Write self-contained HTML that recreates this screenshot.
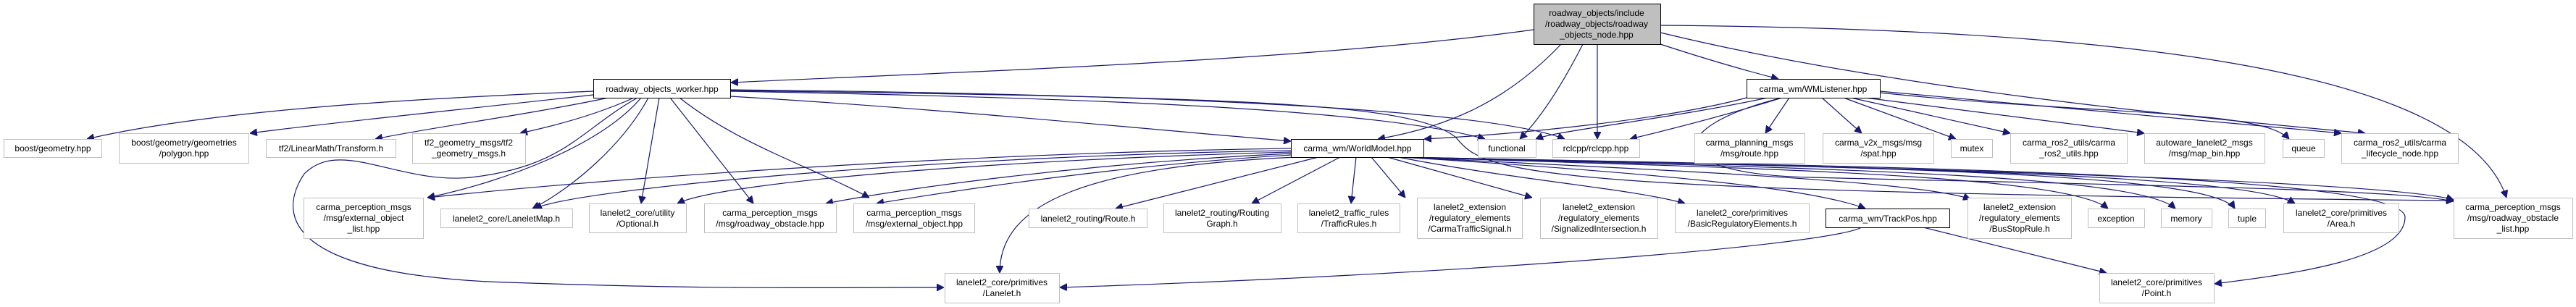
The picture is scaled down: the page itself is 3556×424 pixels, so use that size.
<!DOCTYPE html>
<html><head><meta charset="utf-8"><style>
html,body{margin:0;padding:0;background:#fff;}
svg{display:block;}
text{font-family:"Liberation Sans",Arial,sans-serif;font-size:12px;fill:#000;}
</style></head><body>
<svg width="3556" height="424" viewBox="0 0 3556 424" xmlns="http://www.w3.org/2000/svg">
<defs>
<marker id="a" viewBox="0 0 10 10" refX="10" refY="5" markerWidth="10" markerHeight="10" markerUnits="userSpaceOnUse" orient="auto">
<path d="M0,0 L10,5 L0,10 z" fill="#191970" stroke="#191970"/>
</marker>
</defs>
<g fill="none" stroke="#191970" stroke-width="1.2" marker-end="url(#a)">
<!-- main node -->
<path d="M2117,41 C1800,85 1300,100 1009,114"/>
<path d="M2155,61 C2080,140 2000,175 1902,192"/>
<path d="M2185,61 C2160,110 2130,160 2098,192"/>
<path d="M2205,61 L2205,192"/>
<path d="M2292,61 C2350,80 2400,95 2455,109"/>
<path d="M2292,45 C2600,120 3000,160 3265,184"/>
<path d="M2292,35 C2900,40 3400,90 3460,273"/>
<!-- worker -->
<path d="M819,126 C600,135 300,150 120,192"/>
<path d="M819,131 C650,150 450,170 345,184"/>
<path d="M840,135 C720,160 600,175 518,192"/>
<path d="M875,135 C820,160 760,175 718,184"/>
<path d="M880,135 C800,180 780,230 650,245 C550,255 470,190 420,240 C380,300 400,380 700,390 C1000,400 1100,397 1303,397"/>
<path d="M885,135 C830,200 700,250 590,273"/>
<path d="M895,135 C860,200 790,260 735,288"/>
<path d="M910,135 L885,281"/>
<path d="M925,135 L1040,281"/>
<path d="M938,135 C1020,200 1120,230 1200,273"/>
<path d="M1008,133 C1300,150 1600,180 1782,195"/>
<path d="M1008,126 C1500,135 1900,150 2050,192"/>
<path d="M1008,124 C1600,130 2050,150 2160,192"/>
<path d="M1008,125 C1700,135 1950,140 2010,190 C2050,240 2100,265 3387,277"/>
<!-- WorldModel -->
<path d="M1782,205 C1400,210 900,240 590,273"/>
<path d="M1782,208 C1300,215 800,260 738,288"/>
<path d="M1782,210 C1400,220 1000,250 935,281"/>
<path d="M1782,212 C1500,225 1250,260 1140,281"/>
<path d="M1782,214 C1600,225 1400,250 1210,281"/>
<path d="M1790,217 C1500,230 1380,280 1380,377"/>
<path d="M1820,217 L1540,288"/>
<path d="M1850,217 L1728,281"/>
<path d="M1872,217 L1865,281"/>
<path d="M1893,217 L1940,273"/>
<path d="M1915,217 L2115,273"/>
<path d="M1930,217 C2100,250 2250,260 2326,281"/>
<path d="M1935,217 C2300,240 2500,260 2575,288"/>
<path d="M1935,217 C2300,235 2650,250 2720,275"/>
<path d="M1935,217 C2400,232 2850,240 2910,288"/>
<path d="M1935,217 C2500,232 2950,240 3003,288"/>
<path d="M1935,217 C2500,230 3050,235 3085,288"/>
<path d="M1935,217 C2600,232 3100,240 3168,281"/>
<path d="M1935,217 C2600,230 3300,250 3387,276"/>
<path d="M1935,217 C2600,230 3320,240 3320,300 C3320,360 3150,380 3057,392"/>
<!-- WMListener -->
<path d="M2411,135 C2300,165 2100,185 1966,192"/>
<path d="M2440,135 C2300,165 2150,180 2120,192"/>
<path d="M2460,135 C2380,160 2300,180 2250,192"/>
<path d="M2470,135 L2437,184"/>
<path d="M2515,135 L2570,184"/>
<path d="M2545,135 L2700,192"/>
<path d="M2555,135 L2775,184"/>
<path d="M2575,135 L2960,184"/>
<path d="M2595,128 C2900,160 3120,150 3160,192"/>
<path d="M2595,126 C2900,155 3100,170 3232,184"/>
<path d="M2460,135 C2300,175 2290,240 2500,245 C2900,255 3300,260 3387,278"/>
<!-- TrackPos -->
<path d="M2570,314 C2520,340 2000,380 1463,397"/>
<path d="M2655,314 L2908,377"/>
</g>
<g stroke-width="1">
<rect x="2117.5" y="5.5" width="175" height="56" fill="#bfbfbf" stroke="#000"/>
<g fill="#fff" stroke="#000">
<rect x="819.5" y="109.5" width="189" height="26"/>
<rect x="2411.5" y="109.5" width="184" height="26"/>
<rect x="1782.5" y="192.5" width="183" height="25"/>
<rect x="2520.5" y="288.5" width="171" height="26"/>
</g>
<g fill="#fff" stroke="#bfbfbf">
<rect x="5.5" y="192.5" width="135" height="25"/>
<rect x="164.5" y="184.5" width="179" height="41"/>
<rect x="367.5" y="192.5" width="179" height="25"/>
<rect x="569.5" y="184.5" width="156" height="41"/>
<rect x="2040.5" y="192.5" width="80" height="25"/>
<rect x="2143.5" y="192.5" width="120" height="25"/>
<rect x="2339.5" y="184.5" width="152" height="41"/>
<rect x="2516.5" y="184.5" width="153" height="41"/>
<rect x="2693.5" y="192.5" width="57" height="25"/>
<rect x="2775.5" y="184.5" width="161" height="41"/>
<rect x="2960.5" y="184.5" width="166" height="41"/>
<rect x="3151.5" y="192.5" width="57" height="25"/>
<rect x="3232.5" y="184.5" width="161" height="41"/>
<rect x="419.5" y="273.5" width="165" height="56"/>
<rect x="608.5" y="288.5" width="182" height="26"/>
<rect x="813.5" y="281.5" width="134" height="40"/>
<rect x="972.5" y="281.5" width="182" height="40"/>
<rect x="1178.5" y="281.5" width="167" height="40"/>
<rect x="1420.5" y="288.5" width="163" height="26"/>
<rect x="1606.5" y="281.5" width="162" height="40"/>
<rect x="1791.5" y="281.5" width="141" height="40"/>
<rect x="1956.5" y="273.5" width="145" height="56"/>
<rect x="2126.5" y="273.5" width="162" height="56"/>
<rect x="2312.5" y="281.5" width="185" height="40"/>
<rect x="2716.5" y="273.5" width="143" height="56"/>
<rect x="2882.5" y="288.5" width="78" height="26"/>
<rect x="2983.5" y="288.5" width="70" height="26"/>
<rect x="3076.5" y="288.5" width="51" height="26"/>
<rect x="3152.5" y="281.5" width="159" height="40"/>
<rect x="3387.5" y="273.5" width="164" height="56"/>
<rect x="1304.5" y="377.5" width="158" height="41"/>
<rect x="2898.5" y="377.5" width="158" height="41"/>
</g>
</g>
<g text-anchor="middle">
<text x="2204" y="22">roadway_objects/include</text>
<text x="2204" y="37">/roadway_objects/roadway</text>
<text x="2204" y="52">_objects_node.hpp</text>
<text x="914" y="127">roadway_objects_worker.hpp</text>
<text x="2503" y="127">carma_wm/WMListener.hpp</text>
<text x="1874" y="209">carma_wm/WorldModel.hpp</text>
<text x="2606" y="306">carma_wm/TrackPos.hpp</text>
<text x="73" y="209">boost/geometry.hpp</text>
<text x="254" y="201">boost/geometry/geometries</text>
<text x="254" y="216">/polygon.hpp</text>
<text x="457" y="209">tf2/LinearMath/Transform.h</text>
<text x="647" y="201">tf2_geometry_msgs/tf2</text>
<text x="647" y="216">_geometry_msgs.h</text>
<text x="2080" y="209">functional</text>
<text x="2203" y="209">rclcpp/rclcpp.hpp</text>
<text x="2415" y="201">carma_planning_msgs</text>
<text x="2415" y="216">/msg/route.hpp</text>
<text x="2593" y="201">carma_v2x_msgs/msg</text>
<text x="2593" y="216">/spat.hpp</text>
<text x="2722" y="209">mutex</text>
<text x="2856" y="201">carma_ros2_utils/carma</text>
<text x="2856" y="216">_ros2_utils.hpp</text>
<text x="3043" y="201">autoware_lanelet2_msgs</text>
<text x="3043" y="216">/msg/map_bin.hpp</text>
<text x="3180" y="209">queue</text>
<text x="3313" y="201">carma_ros2_utils/carma</text>
<text x="3313" y="216">_lifecycle_node.hpp</text>
<text x="502" y="290">carma_perception_msgs</text>
<text x="502" y="305">/msg/external_object</text>
<text x="502" y="320">_list.hpp</text>
<text x="699" y="306">lanelet2_core/LaneletMap.h</text>
<text x="880" y="298">lanelet2_core/utility</text>
<text x="880" y="313">/Optional.h</text>
<text x="1063" y="298">carma_perception_msgs</text>
<text x="1063" y="313">/msg/roadway_obstacle.hpp</text>
<text x="1262" y="298">carma_perception_msgs</text>
<text x="1262" y="313">/msg/external_object.hpp</text>
<text x="1502" y="306">lanelet2_routing/Route.h</text>
<text x="1687" y="298">lanelet2_routing/Routing</text>
<text x="1687" y="313">Graph.h</text>
<text x="1862" y="298">lanelet2_traffic_rules</text>
<text x="1862" y="313">/TrafficRules.h</text>
<text x="2029" y="290">lanelet2_extension</text>
<text x="2029" y="305">/regulatory_elements</text>
<text x="2029" y="320">/CarmaTrafficSignal.h</text>
<text x="2207" y="290">lanelet2_extension</text>
<text x="2207" y="305">/regulatory_elements</text>
<text x="2207" y="320">/SignalizedIntersection.h</text>
<text x="2405" y="298">lanelet2_core/primitives</text>
<text x="2405" y="313">/BasicRegulatoryElements.h</text>
<text x="2788" y="290">lanelet2_extension</text>
<text x="2788" y="305">/regulatory_elements</text>
<text x="2788" y="320">/BusStopRule.h</text>
<text x="2921" y="306">exception</text>
<text x="3018" y="306">memory</text>
<text x="3102" y="306">tuple</text>
<text x="3232" y="298">lanelet2_core/primitives</text>
<text x="3232" y="313">/Area.h</text>
<text x="3469" y="290">carma_perception_msgs</text>
<text x="3469" y="305">/msg/roadway_obstacle</text>
<text x="3469" y="320">_list.hpp</text>
<text x="1383" y="394">lanelet2_core/primitives</text>
<text x="1383" y="409">/Lanelet.h</text>
<text x="2977" y="394">lanelet2_core/primitives</text>
<text x="2977" y="409">/Point.h</text>
</g>
</svg>
</body></html>
